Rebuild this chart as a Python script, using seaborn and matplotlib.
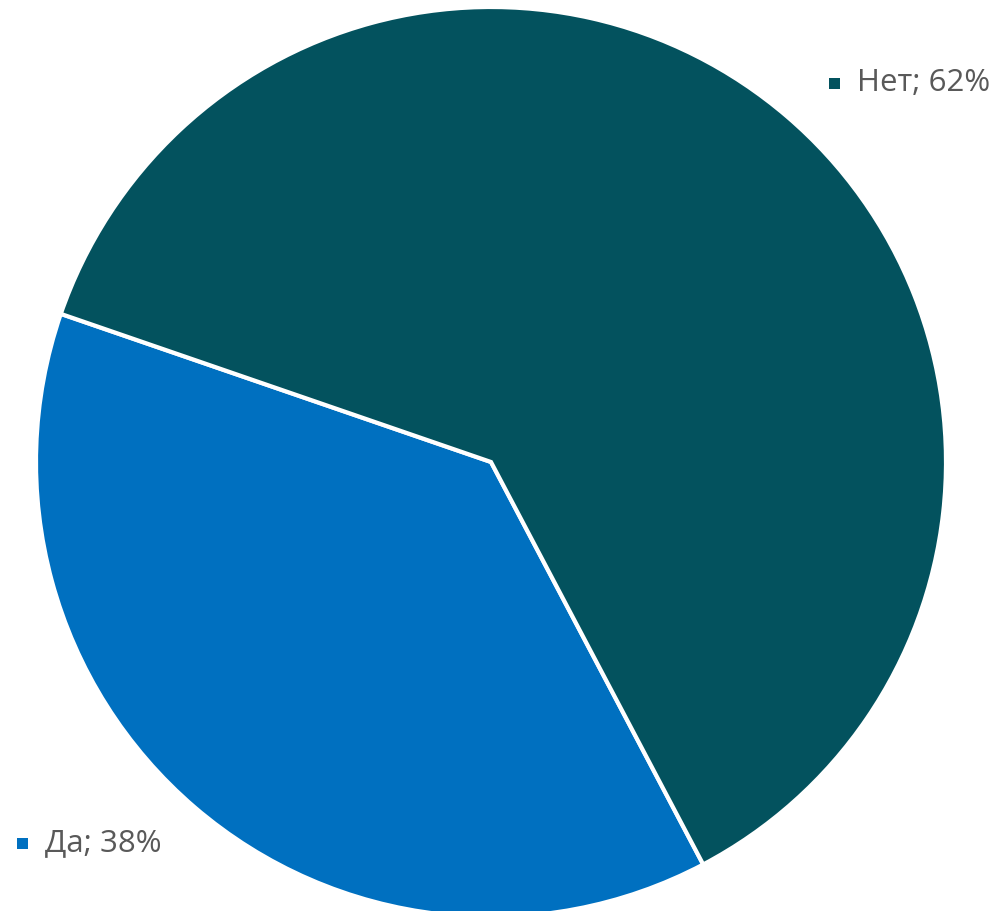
import matplotlib
matplotlib.use("Agg")
import matplotlib.pyplot as plt
import matplotlib.patches as mpatches
import seaborn as sns

# data
labels = ["Да", "Нет"]
shares = [38, 62]
colors = ["#0070C0", "#03525E"]

sns.set_theme(style="white")
plt.rcParams['font.family'] = ['Open Sans', 'DejaVu Sans']

fig = plt.figure(figsize=(9.94, 9.11), dpi=100)
# pie axes: center ~ (491, 462) px, radius ~455 px
ax = fig.add_axes([36 / 994, -6 / 911, 910 / 994, 910 / 911])
ax.pie(shares, colors=colors, startangle=161, counterclock=True,
       radius=1.0, wedgeprops=dict(edgecolor="white", linewidth=3))
ax.set_xlim(-1, 1)
ax.set_ylim(-1, 1)
ax.set_aspect("equal")
ax.axis("off")

# data labels with legend keys (pixel positions from the reference)
label_pos = {"Нет": (834, 83), "Да": (22, 843)}
for lab, val, col in zip(labels, shares, colors):
    px, py = label_pos[lab]
    s = 11
    fig.add_artist(mpatches.Rectangle(((px - s / 2) / 994, 1 - (py + s / 2) / 911),
                                      s / 994, s / 911, transform=fig.transFigure,
                                      facecolor=col, edgecolor="none"))
    fig.text((px + 23) / 994, 1 - py / 911, f"{lab}; {val}%", ha="left", va="center",
             fontsize=22.5, color="#595959")

fig.savefig("out.png", dpi=100)
